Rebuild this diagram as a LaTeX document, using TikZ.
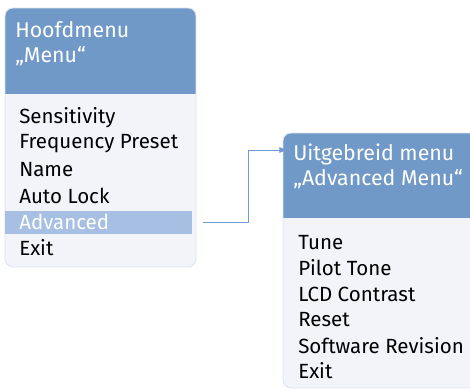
\documentclass[tikz,border=0pt]{standalone}
\usepackage{fontspec}
\setmainfont{Fira Sans}
\usepackage{tikz}
\usetikzlibrary{arrows.meta,positioning}
\definecolor{headbg}{HTML}{7199C8}
\definecolor{bodybg}{HTML}{F3F4FA}
\definecolor{selbg}{HTML}{A6BFE2}
\definecolor{edge}{HTML}{DCE2EE}
\definecolor{link}{HTML}{6F9BD0}
\tikzset{
  menubox/.style = {draw=edge, line width=0.6pt, rounded corners=6},
  head/.style    = {anchor=north west, align=left, inner sep=0pt, text=white,
                    font=\fontsize{16}{18.8}\selectfont},
  item/.style    = {anchor=west, inner sep=0pt, font=\fontsize{15.4}{16}\selectfont},
  sel/.style     = {item, fill=selbg, text=white, minimum height=17.25pt,
                    text width=119.25pt, inner xsep=10.5pt, align=left},
  ar/.style      = {-{Latex[length=2.2mm,width=1.6mm]}, draw=link, line width=0.6pt},
}

\begin{document}
\begin{tikzpicture}[x=0.75pt, y=-0.75pt]
  \useasboundingbox (0,0) rectangle (470,390);
  % main menu
  \begin{scope}
    \clip[rounded corners=6] (5,8) rectangle (196,267);
    \fill[bodybg] (5,8) rectangle (196,267);
    \fill[headbg] (5,8) rectangle (196,94);
  \end{scope}
  \draw[menubox] (5,8) rectangle (196,267);
  \node[head] (hoofd) at (15,21) {Hoofdmenu\\„Menu“};
  \node[item] (m1) at (19,118) {Sensitivity};
  \node[item] (m2) at (19,144) {Frequency Preset};
  \node[item] (m3) at (19,170) {Name};
  \node[item] (m4) at (19,196) {Auto Lock};
  \node[sel] (m5) at (5,222) {Advanced};
  \node[item] (m6) at (19,248) {Exit};
  % advanced menu
  \begin{scope}
    \clip[rounded corners=6] (283,133) rectangle (478,388);
    \fill[bodybg] (283,133) rectangle (478,388);
    \fill[headbg] (283,133) rectangle (478,218);
  \end{scope}
  \draw[menubox] (283,133) rectangle (478,388);
  \node[head] (uitg) at (293,144) {Uitgebreid menu\\„Advanced Menu“};
  \node[item] (a1) at (298,243) {Tune};
  \node[item] (a2) at (298,268) {Pilot Tone};
  \node[item] (a3) at (298,294) {LCD Contrast};
  \node[item] (a4) at (298,320) {Reset};
  \node[item] (a5) at (298,346) {Software Revision};
  \node[item] (a6) at (298,371) {Exit};
  % link
  \coordinate (bend) at (248,150);
  \draw[ar] ([xshift=7.5pt]m5.east) -| (bend) -- ([xshift=-4pt]uitg.west |- bend);
\end{tikzpicture}
\end{document}
